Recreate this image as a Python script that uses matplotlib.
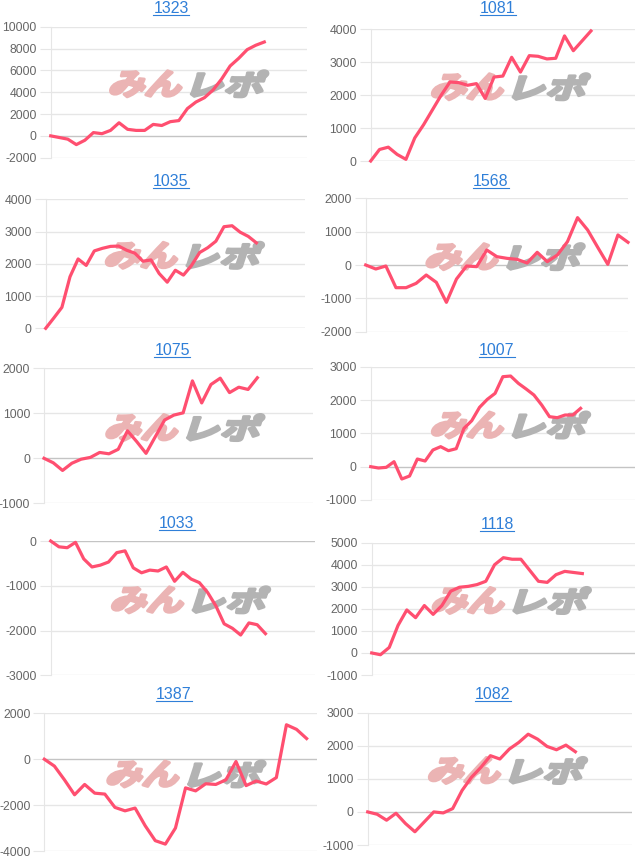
import matplotlib
matplotlib.use('Agg')
import matplotlib.pyplot as plt
import matplotlib.transforms as mtrans
from matplotlib.textpath import TextPath
from matplotlib.patches import PathPatch
from matplotlib.font_manager import FontProperties
from matplotlib.lines import Line2D

# --- data ---
titles = ['1323', '1081', '1035', '1568', '1075', '1007', '1033', '1118', '1387', '1082']

s1323 = [0, -150, -300, -800, -400, 300, 200, 500, 1200, 600, 500, 500, 1050, 950,
         1300, 1400, 2500, 3100, 3500, 4200, 5200, 6400, 7100, 7900, 8300, 8600]
s1081 = [0, 350, 420, 200, 50, 700, 1100, 1550, 2000, 2400, 2380, 2300, 2350, 1900,
         2550, 2580, 3150, 2700, 3200, 3180, 3100, 3120, 3800, 3350, 3650, 3950]
s1035 = [0, 320, 650, 1600, 2150, 1950, 2400, 2480, 2540, 2550, 2420, 2330, 2080, 2120,
         1700, 1430, 1800, 1650, 1950, 2350, 2500, 2700, 3150, 3180, 2980, 2850, 2650]
s1568 = [0, -120, -30, -680, -680, -550, -300, -520, -1120, -420, -30, -50, 450, 250,
         200, 170, 60, 380, 100, 300, 700, 1420, 1050, 530, 20, 900, 680]
s1075 = [0, -100, -270, -110, -20, 20, 130, 100, 200, 610, 370, 110, 480, 850, 960,
         1010, 1720, 1230, 1640, 1780, 1460, 1580, 1530, 1790]
s1007 = [0, -40, -20, 150, -370, -280, 230, 170, 500, 600, 480, 540, 1150, 1380, 1780,
         2020, 2200, 2700, 2720, 2500, 2330, 2150, 1850, 1500, 1470, 1550, 1550, 1750]
s1033 = [0, -130, -150, -30, -400, -580, -540, -470, -260, -220, -600, -710, -650, -670,
         -580, -900, -700, -850, -930, -1150, -1450, -1850, -1950, -2100, -1830, -1870, -2070]
s1118 = [0, -80, 250, 1250, 1950, 1600, 2150, 1750, 2150, 2800, 2980, 3020, 3100, 3250,
         4000, 4320, 4250, 4250, 3750, 3250, 3200, 3550, 3700, 3650, 3600]
s1387 = [0, -300, -900, -1550, -1100, -1480, -1520, -2100, -2250, -2130, -2900, -3550,
         -3700, -3000, -1250, -1380, -1070, -1100, -900, -100, -1150, -950, -1080, -800,
         1500, 1300, 900]
s1082 = [0, -70, -250, -40, -350, -600, -300, 0, -30, 100, 650, 1050, 1350, 1700, 1600,
         1900, 2100, 2350, 2200, 1980, 1880, 2020, 1820]

series = [s1323, s1081, s1035, s1568, s1075, s1007, s1033, s1118, s1387, s1082]

yticks = [
    [-2000, 0, 2000, 4000, 6000, 8000, 10000],
    [0, 1000, 2000, 3000, 4000],
    [0, 1000, 2000, 3000, 4000],
    [-2000, -1000, 0, 1000, 2000],
    [-1000, 0, 1000, 2000],
    [-1000, 0, 1000, 2000, 3000],
    [-3000, -2000, -1000, 0],
    [-1000, 0, 1000, 2000, 3000, 4000, 5000],
    [-4000, -2000, 0, 2000],
    [-1000, 0, 1000, 2000, 3000],
]

# number of x slots on each axis
xspan = [30, 30, 32, 26, 29, 34, 32, 30, 27, 28]

# --- layout (pixels) ---
W, H = 643, 858
boxes = [(50.7, 307, 26.7, 157.7), (370.7, 635, 29.3, 161),
         (45.7, 305, 199.3, 328.3), (365.7, 628, 198.3, 331.7),
         (44, 313, 368.3, 503.3), (370.7, 635, 366.7, 500),
         (50.7, 315, 541, 675.3), (371.7, 635, 542.7, 675),
         (44.3, 316.7, 713.3, 851), (367.7, 632, 712.7, 845)]
title_pos = [(171, 13), (498, 13), (171, 186), (491, 186), (172, 355),
             (497, 355), (177, 528), (497, 529), (174, 699), (493, 699)]

LINE = '#ff4f70'
GRID = '#e6e6e6'
ZERO = '#c4c4c4'
TXT = '#666666'
LINK = '#2f7fd8'

plt.rcParams['font.family'] = ['Liberation Sans', 'DejaVu Sans']

fig = plt.figure(figsize=(W / 100, H / 100), dpi=100)

wm_font = FontProperties(family='Noto Sans CJK JP', weight='bold')


def watermark(ax):
    # skewed "みんレポ" logo, sized in pixels, placed in axes fraction
    parts = [('みん', '#ebb4b4', 0), ('レポ', '#b3b3b3', 82)]
    for txt, col, dx in parts:
        tp = TextPath((0, 0), txt, size=1, prop=wm_font)
        bb = tp.get_extents()
        tr = (mtrans.Affine2D().translate(-bb.x0, -bb.y0)
              .scale(70 / bb.width, 26 / bb.height)
              .skew_deg(18, 0).translate(dx, 0)
              + mtrans.ScaledTranslation(0.225, 0.465, ax.transAxes))
        ax.add_patch(PathPatch(tp, transform=tr, facecolor=col,
                               edgecolor=col, lw=2.2, joinstyle='round',
                               zorder=1))


titles_txt = []
for i in range(10):
    l, r, t, b = boxes[i]
    ax = fig.add_axes([l / W, 1 - b / H, (r - l) / W, (b - t) / H])
    yt = yticks[i]
    for v in yt:
        ax.axhline(v, color=ZERO if v == 0 else GRID, lw=1, zorder=0.5)
    ax.plot(range(len(series[i])), series[i], color=LINE, lw=2.3,
            solid_joinstyle='round', zorder=3, clip_on=False)
    ax.set_xlim(0, xspan[i])
    ax.set_ylim(yt[0], yt[-1])
    ax.set_yticks(yt)
    ax.set_yticklabels([str(v) for v in yt])
    ax.set_xticks([])
    for sp in ['top', 'right', 'bottom']:
        ax.spines[sp].set_visible(False)
    ax.spines['left'].set_color(GRID)
    ax.tick_params(axis='y', length=8, color=GRID, labelcolor=TXT,
                   labelsize=8.8, pad=2)
    watermark(ax)
    x, yb = title_pos[i]
    titles_txt.append(fig.text(x / W, 1 - yb / H, titles[i], color=LINK,
                               fontsize=11.5, ha='center', va='baseline'))

# underline the titles like links
fig.canvas.draw()
for i, tx in enumerate(titles_txt):
    bb = tx.get_window_extent()
    yb = H - title_pos[i][1] - 2
    fig.add_artist(Line2D([bb.x0, bb.x1], [yb, yb], color=LINK, lw=0.8,
                          transform=mtrans.IdentityTransform()))

fig.savefig('out.png', dpi=100)
